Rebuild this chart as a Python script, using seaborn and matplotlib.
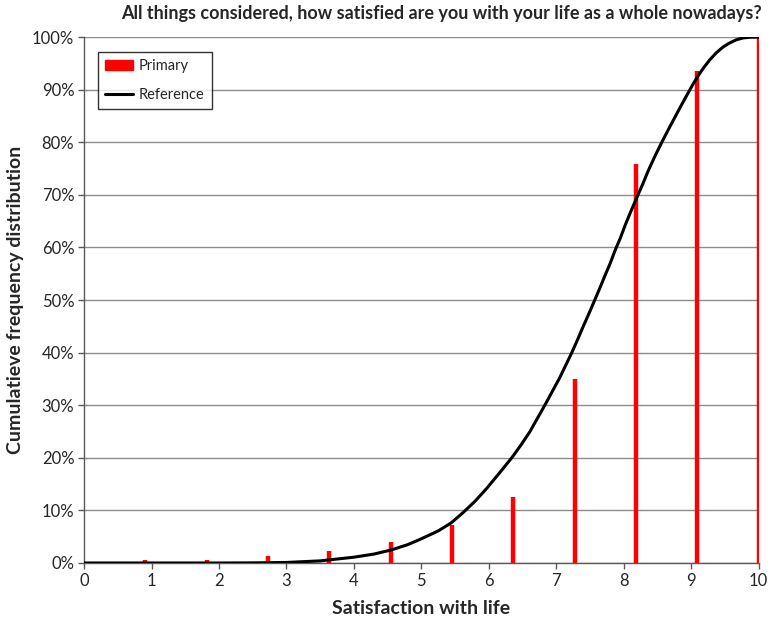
import numpy as np
import pandas as pd
import matplotlib
matplotlib.use("Agg")
import matplotlib.pyplot as plt
import matplotlib.patches as mpatches
from matplotlib.lines import Line2D
from matplotlib.ticker import PercentFormatter
import seaborn as sns

# Primary: cumulative share at each of the 11 answer categories
primary_x = [0.909, 1.818, 2.727, 3.636, 4.545, 5.455, 6.364, 7.273, 8.182, 9.091, 10.0]
primary_y = [0.5, 0.6, 1.4, 2.2, 3.9, 7.3, 12.5, 35.0, 75.8, 93.5, 100.0]

# Reference curve
ref_x = [0.0, 1.0, 2.0, 2.5, 3.0, 3.5, 4.0, 4.3, 4.56, 4.8, 5.0, 5.25, 5.44, 5.62,
         5.8, 5.97, 6.15, 6.34, 6.48, 6.61, 6.72, 6.83, 6.94, 7.05, 7.14, 7.23, 7.32,
         7.40, 7.49, 7.57, 7.65, 7.72, 7.8, 7.87, 7.95, 8.02, 8.1, 8.19, 8.28, 8.36,
         8.46, 8.56, 8.66, 8.76, 8.86, 8.95, 9.02, 9.10, 9.18, 9.27, 9.37, 9.47, 9.57,
         9.67, 9.77, 9.87, 10.0]
ref_y = [0.0, 0.0, 0.0, 0.02, 0.1, 0.4, 1.1, 1.7, 2.5, 3.5, 4.6, 6.1, 7.6, 9.6,
         11.8, 14.2, 17.0, 20.0, 22.5, 25.0, 27.5, 30.0, 32.6, 35.2, 37.6, 40.0, 42.6,
         45.0, 47.6, 50.0, 52.4, 54.6, 57.0, 59.4, 61.8, 64.2, 66.7, 69.4, 72.0, 74.5,
         77.3, 79.9, 82.4, 84.8, 87.2, 89.3, 90.9, 92.6, 94.1, 95.6, 97.0, 98.1, 98.9,
         99.5, 99.85, 99.98, 100.0]

sns.set_style("white")
plt.rcParams['font.family'] = ['Lato', 'DejaVu Sans']

fig = plt.figure(figsize=(7.71, 6.19), dpi=100)
ax = fig.add_axes([0.109, 0.0905, 0.875, 0.8495])

ax.yaxis.grid(True, color='#8c8c8c', linewidth=1)
ax.set_axisbelow(True)

ref = pd.DataFrame({'x': ref_x, 'y': ref_y})
ax.vlines(primary_x, 0, primary_y, color='#ff0000', linewidth=3.2, zorder=3)
sns.lineplot(data=ref, x='x', y='y', ax=ax, color='black', linewidth=2.2,
             zorder=4, legend=False)

ax.set_xlim(0, 10)
ax.set_ylim(0, 100)
ax.set_xticks(range(0, 11))
ax.set_yticks(range(0, 101, 10))
ax.yaxis.set_major_formatter(PercentFormatter(decimals=0))
ax.tick_params(axis='both', labelsize=12, direction='out', length=4,
               color='#595959', width=1, left=True, bottom=True, pad=3)

for s in ['top', 'right']:
    ax.spines[s].set_visible(False)
for s in ['left', 'bottom']:
    ax.spines[s].set_color('#595959')
    ax.spines[s].set_linewidth(1)

ax.set_xlabel('Satisfaction with life', fontsize=14, fontweight='bold', labelpad=8)
ax.set_ylabel('Cumulatieve frequency distribution', fontsize=14, fontweight='bold', labelpad=6)
fig.text(441 / 771, 1 - 14 / 619,
         'All things considered, how satisfied are you with your life as a whole nowadays?',
         ha='center', va='center', fontsize=13, fontweight='bold')

handles = [mpatches.Patch(color='#ff0000', label='Primary'),
           Line2D([0], [0], color='black', linewidth=2.2, label='Reference')]
leg = ax.legend(handles=handles, loc='upper left', bbox_to_anchor=(0.021, 0.9715),
                borderaxespad=0, fontsize=10.5, frameon=True, fancybox=False,
                handlelength=1.9, handletextpad=0.4, borderpad=0.5, labelspacing=1.0)
leg.get_frame().set_edgecolor('black')
leg.get_frame().set_linewidth(1)

fig.savefig('out.png', dpi=100)
